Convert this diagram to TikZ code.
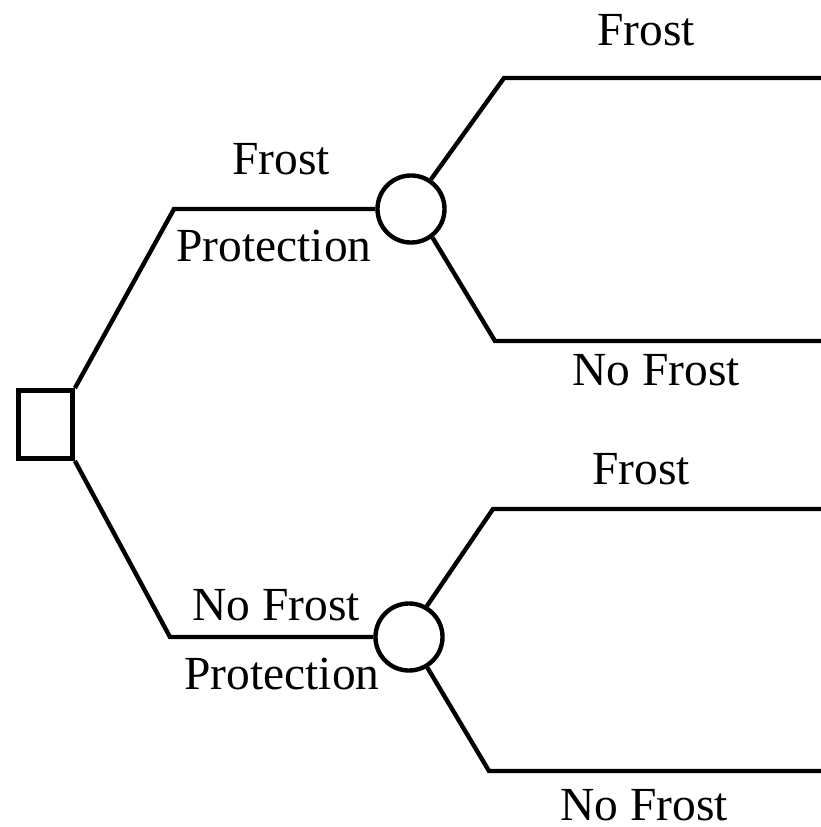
\documentclass[tikz,border=0pt]{standalone}
\usepackage{fontspec}
\setmainfont{Liberation Serif}
\usepackage{tikz}
\usetikzlibrary{positioning}
\tikzset{
  branch/.style={line width=1.25pt, draw=black},
  decision/.style={rectangle, draw=black, line width=1.35pt,
                   minimum width=0.54cm, minimum height=0.68cm, inner sep=0pt},
  chance/.style={circle, draw=black, line width=1.25pt,
                 minimum size=0.67cm, inner sep=0pt},
  lbl/.style={font=\fontsize{13.5}{16}\selectfont, anchor=base, inner sep=0pt},
}

\begin{document}
\begin{tikzpicture}[x=0.01cm, y=-0.01cm]
  \useasboundingbox (0,0) rectangle (821,827);

  %% Decision and chance nodes
  \node[decision] (choice) at (45.5,424.5) {};
  \node[chance] (chanceA) at (411,209) {};
  \node[chance] (chanceB) at (409,637) {};

  %% Elbows and free ends
  \coordinate (elbA) at (174,209);
  \coordinate (elbB) at (170,637);
  \coordinate (elbA1) at (504,78);
  \coordinate (endA1) at (821,78);
  \coordinate (elbA2) at (495,341);
  \coordinate (endA2) at (821,341);
  \coordinate (elbB1) at (493,509);
  \coordinate (endB1) at (821,509);
  \coordinate (elbB2) at (489,771);
  \coordinate (endB2) at (821,771);

  %% Decision branches
  \draw[branch] (choice.north east) -- (elbA) -- (chanceA.west);
  \draw[branch] (choice.south east) -- (elbB) -- (chanceB.west);

  %% Outcome branches
  \foreach \c/\a/\b/\e in {chanceA/56/elbA1/endA1, chanceA/-53/elbA2/endA2,
                           chanceB/60/elbB1/endB1, chanceB/-59/elbB2/endB2}{
    \draw[branch] (\c.\a) -- (\b) -- (\e);
  }

  %% Labels
  \node[lbl] (lblFrostProt) at (281,174) {Frost};
  \node[lbl] (lblProtA) at (274,261) {Protection};
  \node[lbl] (lblNoFrostProt) at (276,620) {No Frost};
  \node[lbl] (lblProtB) at (282,689) {Protection};

  \node[lbl] (lblFrostA) at (646,45) {Frost};
  \node[lbl] (lblNoFrostA) at (656,385) {No Frost};
  \node[lbl] (lblFrostB) at (641,484) {Frost};
  \node[lbl] (lblNoFrostB) at (644,820) {No Frost};

\end{tikzpicture}
\end{document}
